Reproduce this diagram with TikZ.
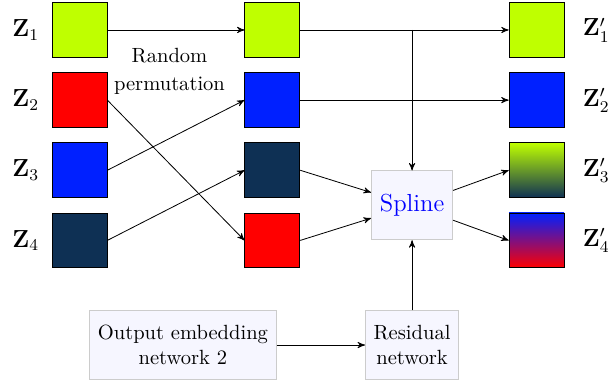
\documentclass[tikz,border=0pt]{standalone}
\usetikzlibrary{arrows}

\definecolor{zlime}{RGB}{191,255,0}
\definecolor{zred}{RGB}{255,0,0}
\definecolor{zblue}{RGB}{0,32,255}
\definecolor{znavy}{RGB}{14,48,84}
\definecolor{boxfill}{RGB}{246,246,255}

\begin{document}
\begin{tikzpicture}[>=stealth',node distance=1.2cm,
	blk/.style={draw,minimum size=0.94cm,inner sep=0pt},
	box/.style={draw=black!20,fill=boxfill,align=center,inner xsep=4pt,minimum height=1.17cm},
	lbl/.style={font=\large}]
	\useasboundingbox (-1.36,0.513) rectangle (9.145,-6.074);

	% input columns
	\node[blk,fill=zlime]               (z1) {};
	\node[blk,fill=zred]  [below of=z1] (z2) {};
	\node[blk,fill=zblue] [below of=z2] (z3) {};
	\node[blk,fill=znavy] [below of=z3] (z4) {};

	\node[lbl,left of=z1,node distance=0.92cm] (l1) {$\mathbf{Z}_1$};
	\node[lbl,left of=z2,node distance=0.92cm] (l2) {$\mathbf{Z}_2$};
	\node[lbl,left of=z3,node distance=0.92cm] (l3) {$\mathbf{Z}_3$};
	\node[lbl,left of=z4,node distance=0.92cm] (l4) {$\mathbf{Z}_4$};

	% permuted
	\node[blk,fill=zlime] [right of=z1,node distance=3.3cm] (p1) {};
	\node[blk,fill=zblue] [below of=p1] (p2) {};
	\node[blk,fill=znavy] [below of=p2] (p3) {};
	\node[blk,fill=zred]  [below of=p3] (p4) {};

	\node[align=center] (rp) at (1.54,-0.70) {Random\\[1.6pt]permutation};

	% outputs
	\node[blk,fill=zlime] [right of=p1,node distance=4.52cm] (o1) {};
	\node[blk,fill=zblue] [below of=o1] (o2) {};
	\node[blk,top color=zlime,bottom color=znavy] [below of=o2] (o3) {};
	\node[blk,top color=zblue,bottom color=zred]  [below of=o3] (o4) {};

	\node[lbl,right of=o1,node distance=1.02cm] (r1) {$\mathbf{Z}'_1$};
	\node[lbl,right of=o2,node distance=1.02cm] (r2) {$\mathbf{Z}'_2$};
	\node[lbl,right of=o3,node distance=1.02cm] (r3) {$\mathbf{Z}'_3$};
	\node[lbl,right of=o4,node distance=1.02cm] (r4) {$\mathbf{Z}'_4$};

	% spline and networks
	\node[box,minimum width=1.39cm,minimum height=1.18cm,text=blue] (sp) at (5.69,-3.0) {\large Spline};
	\node[box] (res) at (5.69,-5.39) {Residual\\network};
	\node[box] (emb) at (1.77,-5.39) {Output embedding\\network 2};
	\coordinate (br) at (sp |- p1);

	\draw[->] (z1) -- (p1);
	\draw[->] (z2.east) -- (p4.west);
	\draw[->] (z3.east) -- (p2.west);
	\draw[->] (z4.east) -- (p3.west);

	\draw[->] (p1) -- (o1);
	\draw[->] (br) -- (sp);
	\draw[->] (p2) -- (o2);
	\draw[->] (p3.east) -- (sp);
	\draw[->] (p4.east) -- (sp);
	\draw[->] (sp) -- (o3.west);
	\draw[->] (sp) -- (o4.west);

	\draw[->] (emb) -- (res);
	\draw[->] (res) -- (sp);
\end{tikzpicture}
\end{document}
